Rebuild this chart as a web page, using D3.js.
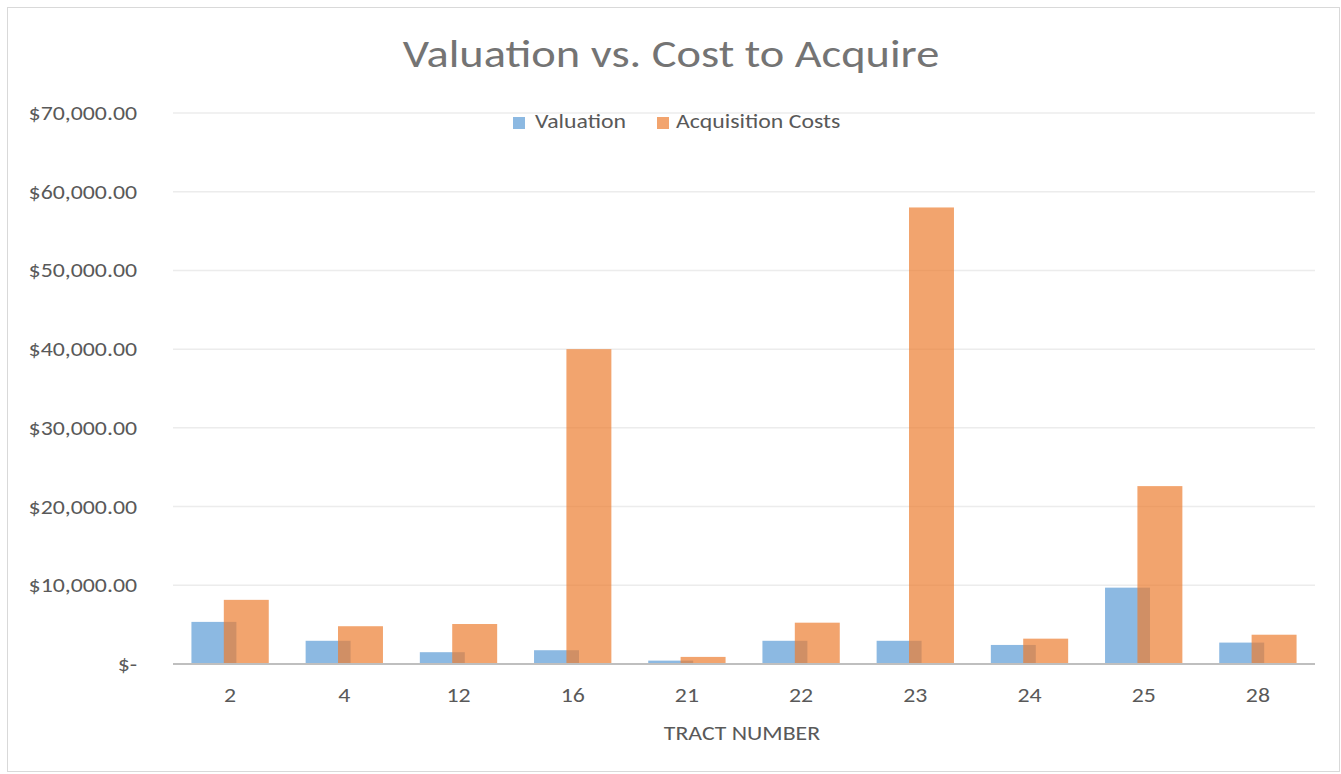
<!DOCTYPE html>
<html>
<head>
<meta charset="utf-8">
<script src="https://cdn.jsdelivr.net/npm/d3@7"></script>
<style>
  body { margin: 0; background: #fff; }
  text { font-family: Calibri, "Open Sans", "Liberation Sans", sans-serif; fill: #595959; }
</style>
</head>
<body>
<svg id="chart" width="1341" height="774"></svg>
<script>
// chart data
var tracts = ["2", "4", "12", "16", "21", "22", "23", "24", "25", "28"];
var valuation = [5350, 2950, 1500, 1750, 430, 2950, 2950, 2420, 9700, 2720];
var acquisitionCosts = [8150, 4800, 5080, 40000, 900, 5250, 58000, 3220, 22600, 3720];
var yTicks = [0, 10000, 20000, 30000, 40000, 50000, 60000, 70000];
var seriesNames = ["Valuation", "Acquisition Costs"];

var svg = d3.select("#chart"),
    W = 1341, H = 774;
var colors = ["#5B9BD5", "#ED7D31"];
var SX = 1.19; // the original picture is a bit wider than tall

// place text at (x,y) and stretch it sideways
function place(x, y) {
    return "translate(" + x + "," + y + ") scale(" + SX + ",1)";
}

// outer frame
svg.append("rect")
    .attr("x", 7.5).attr("y", 7.5)
    .attr("width", W - 9).attr("height", H - 10)
    .attr("fill", "#fff").attr("stroke", "#d9d9d9").attr("stroke-width", 1);

var plot = {left: 173, right: 1315, top: 113, bottom: 664};

var x = d3.scaleBand().domain(tracts).range([plot.left, plot.right]);
var y = d3.scaleLinear().domain([0, 70000]).range([plot.bottom, plot.top]);

// excel style gap width / overlap
var overlap = 0.28, gap = 0.82;
var bw = x.bandwidth() / (2 - overlap + gap);
var step = bw * (1 - overlap);
var startOff = (x.bandwidth() - (bw + step)) / 2;

// gridlines
svg.append("g").selectAll("line")
    .data(yTicks.filter(function(d) { return d > 0; }))
    .join("line")
    .attr("x1", plot.left).attr("x2", plot.right)
    .attr("y1", function(d) { return y(d); })
    .attr("y2", function(d) { return y(d); })
    .attr("stroke", "#ececec").attr("stroke-width", 1.5);

// y tick labels
var fmt = d3.format("$,.2f");
svg.append("g").selectAll("text")
    .data(yTicks)
    .join("text")
    .attr("transform", function(d) { return place(137, y(d)); })
    .attr("dy", "0.35em")
    .attr("text-anchor", "end")
    .style("font-size", "20px")
    .text(function(d) { return d === 0 ? "$-" : fmt(d); });

// bars
var series = [valuation, acquisitionCosts];
series.forEach(function(vals, s) {
    svg.append("g").selectAll("rect")
        .data(vals)
        .join("rect")
        .attr("x", function(d, i) { return x(tracts[i]) + startOff + s * step; })
        .attr("y", function(d) { return y(d); })
        .attr("width", bw)
        .attr("height", function(d) { return y(0) - y(d); })
        .attr("fill", colors[s])
        .attr("fill-opacity", 0.7);
});

// zero axis line
svg.append("line")
    .attr("x1", plot.left).attr("x2", plot.right)
    .attr("y1", y(0)).attr("y2", y(0))
    .attr("stroke", "#bfbfbf").attr("stroke-width", 2);

// x tick labels
svg.append("g").selectAll("text")
    .data(tracts)
    .join("text")
    .attr("transform", function(d) { return place(x(d) + x.bandwidth() / 2, 702); })
    .attr("text-anchor", "middle")
    .style("font-size", "20px")
    .text(function(d) { return d; });

// axis title
svg.append("text")
    .attr("transform", place(742, 740))
    .attr("text-anchor", "middle")
    .style("font-size", "20px")
    .text("TRACT NUMBER");

// chart title (light weight in the original, so a paler grey here)
svg.append("text")
    .attr("transform", place(671, 67))
    .attr("text-anchor", "middle")
    .style("font-size", "39px")
    .style("font-weight", 300)
    .style("fill", "#747474")
    .text("Valuation vs. Cost to Acquire");

// legend
var legendX = [513, 657];
var legend = svg.append("g").selectAll("g")
    .data(seriesNames)
    .join("g")
    .attr("transform", function(d, i) { return "translate(" + legendX[i] + ",117)"; });
legend.append("rect")
    .attr("width", 12).attr("height", 12)
    .attr("fill", function(d, i) { return colors[i]; })
    .attr("fill-opacity", 0.7);
legend.append("text")
    .attr("transform", function(d, i) { return place(i === 0 ? 22 : 19, 11); })
    .style("font-size", "20px")
    .text(function(d) { return d; });
</script>
</body>
</html>
